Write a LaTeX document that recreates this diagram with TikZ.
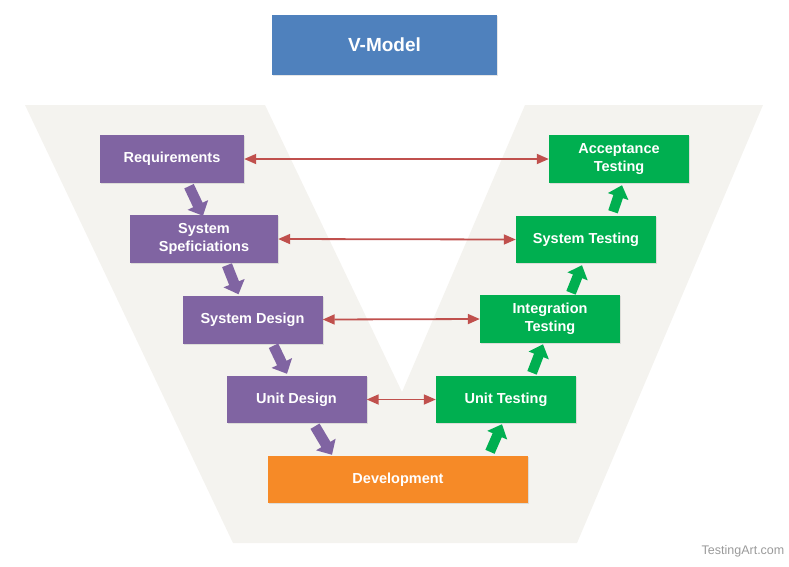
\documentclass[tikz,border=0pt]{standalone}
\usepackage{fontspec}
\setmainfont{Liberation Sans}
\usetikzlibrary{arrows.meta,shadows}
\definecolor{vpurple}{HTML}{8064A2}
\definecolor{vgreen}{HTML}{00AF50}
\definecolor{vorange}{HTML}{F68A27}
\definecolor{vblue}{HTML}{4F81BD}
\definecolor{vred}{HTML}{C0504D}
\definecolor{vband}{HTML}{F4F3EF}
\definecolor{vmark}{HTML}{9A9A9A}
\tikzset{
  box/.style={rectangle, inner sep=0pt, align=center, text=white,
    font=\bfseries\fontsize{14.5}{17.5}\selectfont,
    drop shadow={shadow xshift=1pt, shadow yshift=-1pt, opacity=0.2}},
  pbox/.style={box, fill=vpurple},
  gbox/.style={box, fill=vgreen},
  obox/.style={box, fill=vorange},
  tbox/.style={box, fill=vblue, font=\bfseries\fontsize{19}{22}\selectfont},
  link/.style={draw=vred, line width=1.8pt,
    {Triangle[length=12pt,width=10pt]}-{Triangle[length=12pt,width=10pt]}},
  parrow/.style={draw=vpurple, line width=10.5pt,
    -{Triangle[length=12pt,width=22pt]}},
  garrow/.style={draw=vgreen, line width=10pt,
    -{Triangle[length=12pt,width=21pt]}},
}
\begin{document}
\begin{tikzpicture}[x=1pt,y=-1pt]
\useasboundingbox (0,0) rectangle (789,566);
% background V band
\fill[vband] (25,105) -- (265,105) -- (402,392) -- (525,105) -- (763,105)
  -- (577,543) -- (233,543) -- cycle;
% title
\node[tbox, minimum width=225pt, minimum height=60pt] (title) at (384.5,45) {V-Model};
% left side
\node[pbox, minimum width=144pt, minimum height=48pt] (req) at (172,159) {Requirements};
\node[pbox, minimum width=148pt, minimum height=48pt] (spec) at (204,239) {System\\Speficiations};
\node[pbox, minimum width=140pt, minimum height=48pt] (sdes) at (252.5,319.5) {System Design};
\node[pbox, minimum width=140pt, minimum height=47pt] (udes) at (296.5,399.5) {Unit Design};
% bottom
\node[obox, minimum width=260pt, minimum height=47pt] (dev) at (398,479.5) {Development};
% right side
\node[gbox, minimum width=140pt, minimum height=47pt] (utest) at (506,399.5) {Unit Testing};
\node[gbox, minimum width=140pt, minimum height=48pt] (itest) at (550,319) {Integration\\Testing};
\node[gbox, minimum width=140pt, minimum height=47pt] (stest) at (586,239.5) {System Testing};
\node[gbox, minimum width=140pt, minimum height=48pt] (atest) at (619,159) {Acceptance\\Testing};
% verification links
\draw[link] (req.east) -- (atest.west);
\draw[link] (spec.east) -- (stest.west);
\draw[link] (sdes.east) -- (itest.west);
\draw[link] (udes.east) -- (utest.west);
% descending block arrows
\draw[parrow] ([xshift=17pt,yshift=-3pt]req.south) -- ([xshift=-1pt,yshift=-1pt]spec.north);
\draw[parrow] ([xshift=23pt,yshift=-2pt]spec.south) -- ([xshift=-14pt,yshift=1pt]sdes.north);
\draw[parrow] ([xshift=21pt,yshift=-2pt]sdes.south) -- ([xshift=-9.5pt,yshift=2pt]udes.north);
\draw[parrow] ([xshift=18.5pt,yshift=-3pt]udes.south) -- ([xshift=-66pt,yshift=1pt]dev.north);
% ascending block arrows
\draw[garrow] ([xshift=92pt,yshift=4pt]dev.north) -- ([xshift=-4pt,yshift=-1pt]utest.south);
\draw[garrow] ([xshift=26pt,yshift=3pt]utest.north) -- ([xshift=-7pt,yshift=-1pt]itest.south);
\draw[garrow] ([xshift=21pt,yshift=2pt]itest.north) -- ([xshift=-4pt,yshift=-2pt]stest.south);
\draw[garrow] ([xshift=27pt,yshift=4pt]stest.north) -- ([xshift=3pt,yshift=-2pt]atest.south);
% watermark
\node[text=vmark, font=\fontsize{12.5}{14}\selectfont, inner sep=0pt] (mark) at (743,551) {TestingArt.com};
\end{tikzpicture}
\end{document}
